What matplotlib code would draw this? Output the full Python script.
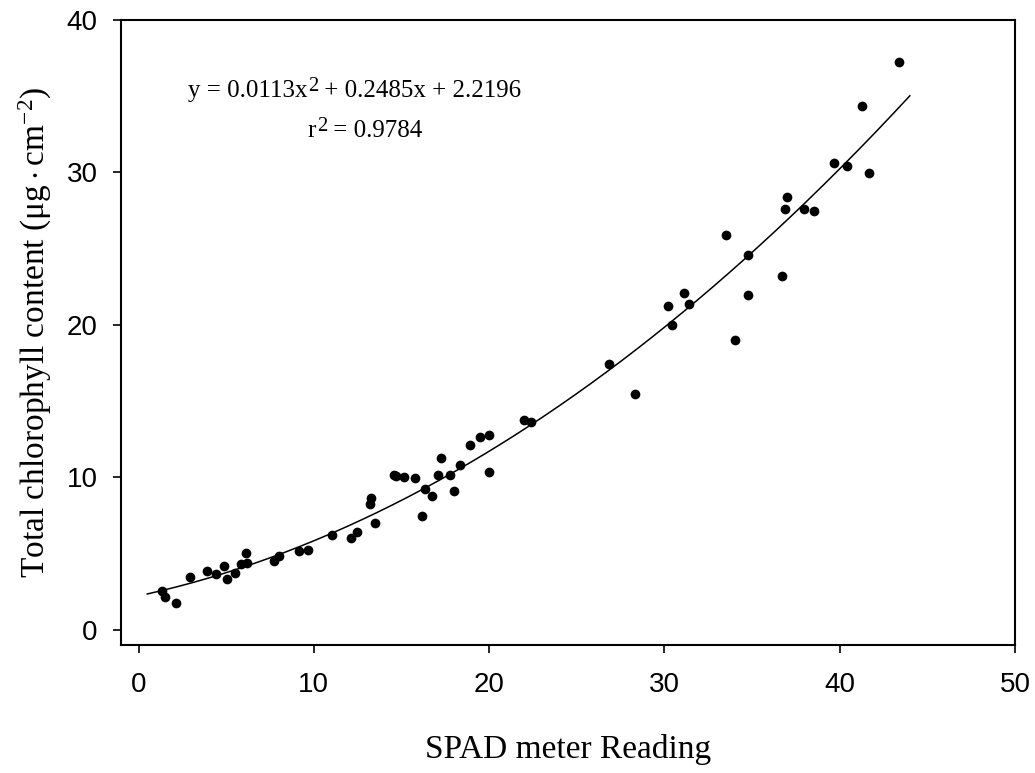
import numpy as np
import matplotlib
matplotlib.use("Agg")
import matplotlib.pyplot as plt

spad = [1.32, 1.49, 2.12, 2.96, 3.93, 4.43, 4.9, 5.06, 5.5, 5.82,
        6.16, 6.12, 7.73, 8.03, 9.15, 9.65, 11.03, 12.14, 12.48, 13.2,
        13.26, 13.51, 14.55, 14.68, 15.13, 15.8, 16.18, 16.37, 16.75, 17.11,
        17.25, 17.78, 17.97, 18.32, 18.89, 19.46, 20.0, 20.02, 22.0, 22.38,
        26.83, 28.3, 30.18, 30.42, 31.14, 31.39, 33.49, 34.02, 34.75, 34.75,
        36.73, 36.86, 37.0, 37.97, 38.56, 39.69, 40.43, 41.25, 41.65, 43.39]
chl = [2.51, 2.14, 1.75, 3.45, 3.84, 3.67, 4.21, 3.34, 3.73, 4.3,
       4.37, 5.02, 4.5, 4.84, 5.17, 5.2, 6.2, 6.02, 6.4, 8.23,
       8.64, 6.99, 10.15, 10.1, 10.0, 9.93, 7.47, 9.21, 8.78, 10.17,
       11.26, 10.13, 9.08, 10.79, 12.12, 12.62, 12.79, 10.33, 13.75, 13.6,
       17.46, 15.45, 21.24, 19.97, 22.11, 21.35, 25.87, 19.01, 24.58, 21.96,
       23.2, 27.57, 28.42, 27.57, 27.48, 30.6, 30.43, 34.38, 29.97, 37.22]
coef = [0.0113, 0.2485, 2.2196]
fit_range = [0.5, 44.0]
xticks = [0, 10, 20, 30, 40, 50]
yticks = [0, 10, 20, 30, 40]

SERIF = 'Liberation Serif'
plt.rcParams['mathtext.fontset'] = 'custom'
plt.rcParams['mathtext.rm'] = SERIF
plt.rcParams['mathtext.it'] = SERIF

fig = plt.figure(figsize=(10.35, 7.73), dpi=100)
ax = fig.add_axes([0.1169, 0.1656, 0.8638, 0.8085])

xf = np.linspace(fit_range[0], fit_range[1], 300)
yf = np.polyval(coef, xf)
ax.plot(xf, yf, color='black', lw=1.1)
ax.plot(spad, chl, 'o', color='black', markersize=7, markeredgewidth=0)

ax.set_xlim(-1, 50)
ax.set_ylim(-1, 40)
ax.set_xticks(xticks)
ax.set_yticks(yticks)
ax.tick_params(direction='out', length=5.8, width=1.2, labelsize=20)
ax.tick_params(axis='x', pad=14)
ax.tick_params(axis='y', pad=11)
for lab in ax.get_xticklabels() + ax.get_yticklabels():
    lab.set_family('Liberation Sans')
for s in ax.spines.values():
    s.set_linewidth(1.5)

ax.set_xlabel('SPAD meter Reading', family=SERIF, fontsize=24)
ax.xaxis.set_label_coords(0.5, -0.142)
ax.set_ylabel(r'Total chlorophyll content ($\mathrm{\mu g \cdot cm^{-2}}$)',
              family=SERIF, fontsize=24)
ax.yaxis.set_label_coords(-0.075, 0.5)

fs = 18
t1 = ax.text(0.075, 0.877, 'y = 0.0113x', transform=ax.transAxes,
             ha='left', va='baseline', family=SERIF, fontsize=fs)
t2 = ax.annotate('2', xy=(1, 1), xycoords=t1, xytext=(0.5, 2), textcoords='offset points',
                 ha='left', va='top', family=SERIF, fontsize=fs * 0.82)
ax.annotate(' + 0.2485x + 2.2196', xy=(1, 0), xycoords=(t2, t1),
            ha='left', va='bottom', family=SERIF, fontsize=fs)

r1 = ax.text(0.209, 0.8128, 'r', transform=ax.transAxes,
             ha='left', va='baseline', family=SERIF, fontsize=fs)
r2 = ax.annotate('2', xy=(1, 1), xycoords=r1, xytext=(0.5, 2), textcoords='offset points',
                 ha='left', va='top', family=SERIF, fontsize=fs * 0.82)
ax.annotate(' = 0.9784', xy=(1, 0), xycoords=(r2, r1),
            ha='left', va='bottom', family=SERIF, fontsize=fs)

fig.savefig('out.png', dpi=100)
